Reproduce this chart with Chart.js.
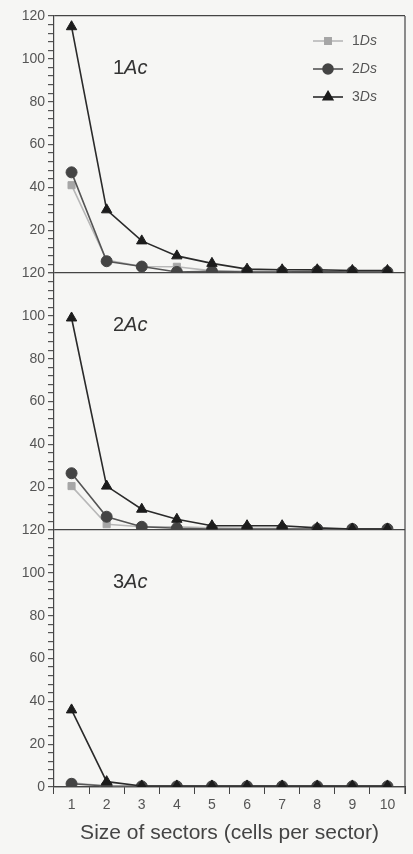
<!DOCTYPE html>
<html>
<head>
<meta charset="utf-8">
<script src="https://cdn.jsdelivr.net/npm/chart.js@4.4.1/dist/chart.umd.min.js"></script>
<style>
    html, body { margin: 0; padding: 0; background: #f6f6f4; }
    #wrap { width: 413px; height: 854px; position: relative; }
</style>
</head>
<body>
<div id="wrap"><canvas id="sectorChart" width="413" height="854"></canvas></div>
<script>
// Datos
const sizes = ['1', '2', '3', '4', '5', '6', '7', '8', '9', '10'];
const seriesNames = ['1Ds', '2Ds', '3Ds'];
const panelNames = ['1Ac', '2Ac', '3Ac'];
const yMax = 120;

// Panel 1Ac
const ac1_ds1 = [41, 6, 3, 2.9, 1, 0.8, 0.8, 0.8, 0.8, 0.8];
const ac1_ds2 = [47, 5.5, 3, 0.5, 0.8, 0.5, 0.5, 0.8, 0.5, 0.5];
const ac1_ds3 = [115, 29.5, 15, 8, 4.5, 1.8, 1.5, 1.5, 1.2, 1.2];

// Panel 2Ac
const ac2_ds1 = [20.5, 2.7, 1.5, 1.5, 1, 0.8, 0.8, 0.5, 0.5, 0.5];
const ac2_ds2 = [26.5, 6.2, 1.5, 0.8, 0.5, 0.5, 0.5, 0.5, 0.5, 0.5];
const ac2_ds3 = [99, 20.5, 9.7, 5, 2, 2, 2, 1, 0.5, 0.5];

// Panel 3Ac
const ac3_ds1 = [2, 0.5, 0.3, 0.3, 0.3, 0.3, 0.3, 0.3, 0.3, 0.3];
const ac3_ds2 = [1.5, 0.5, 0.3, 0.3, 0.3, 0.3, 0.3, 0.3, 0.3, 0.3];
const ac3_ds3 = [36, 2.5, 0.5, 0.5, 0.5, 0.5, 0.5, 0.5, 0.5, 0.5];

const panelData = [
    [ac1_ds1, ac1_ds2, ac1_ds3],
    [ac2_ds1, ac2_ds2, ac2_ds3],
    [ac3_ds1, ac3_ds2, ac3_ds3]
];
const axisIds = ['yA', 'yB', 'yC'];

const estilos = [
    { fill: '#a6a6a6', line: '#b8b8b8', point: 'rect', radius: 5, order: 3 },
    { fill: '#444444', line: '#555555', point: 'circle', radius: 5.5, order: 2 },
    { fill: '#1c1c1c', line: '#2a2a2a', point: 'triangle', radius: 6, order: 1 }
];

const fuente = '"Liberation Sans", Arial, sans-serif';

const datasets = [];
panelData.forEach((panel, p) => {
    panel.forEach((valores, s) => {
        const e = estilos[s];
        datasets.push({
            label: panelNames[p] + ' ' + seriesNames[s],
            data: valores,
            yAxisID: axisIds[p],
            borderColor: e.line,
            backgroundColor: e.fill,
            pointBackgroundColor: e.fill,
            pointBorderColor: e.fill,
            pointStyle: e.point,
            pointRadius: e.radius,
            pointBorderWidth: 1,
            borderWidth: 1.6,
            tension: 0,
            order: e.order
        });
    });
});

function ejeY(idx) {
    return {
        type: 'linear',
        position: 'left',
        stack: 'paneles',
        stackWeight: 1,
        weight: 3 - idx,
        min: 0,
        max: yMax,
        afterFit: (scale) => { scale.width = 54; },
        border: { display: true, color: '#444', width: 1.2 },
        grid: {
            drawOnChartArea: true,
            tickLength: 6,
            tickColor: '#555',
            color: (ctx) => {
                if (!ctx.tick) return 'transparent';
                if (ctx.tick.value === 0) return '#444';
                if (idx === 0 && ctx.tick.value === yMax) return '#444';
                return 'transparent';
            },
            lineWidth: 1.2
        },
        ticks: {
            stepSize: 4,
            autoSkip: false,
            padding: 3,
            color: '#555',
            font: { family: fuente, size: 14 },
            callback: (v) => {
                if (v % 20 !== 0) return '';
                if (v === 0 && idx < 2) return '';
                return v;
            }
        }
    };
}

// Etiquetas de panel, leyenda y borde derecho
const decoracion = {
    id: 'decoracion',
    afterDraw(chart) {
        const ctx = chart.ctx;
        const area = chart.chartArea;
        ctx.save();

        // borde derecho
        ctx.strokeStyle = '#444';
        ctx.lineWidth = 1.2;
        ctx.beginPath();
        ctx.moveTo(area.right, area.top);
        ctx.lineTo(area.right, area.bottom + 7);
        ctx.stroke();

        // nombres de panel: número recto + "Ac" en cursiva
        ctx.fillStyle = '#333';
        ctx.textBaseline = 'middle';
        axisIds.forEach((id, p) => {
            const esc = chart.scales[id];
            const x = area.left + 59;
            const y = esc.top + 52;
            const num = panelNames[p].charAt(0);
            const resto = panelNames[p].slice(1);
            ctx.font = '20px ' + fuente;
            ctx.fillText(num, x, y);
            const w = ctx.measureText(num).width;
            ctx.font = 'italic 20px ' + fuente;
            ctx.fillText(resto, x + w, y);
        });

        // leyenda
        const top = chart.scales.yA.top;
        seriesNames.forEach((nombre, s) => {
            const e = estilos[s];
            const y = top + 25 + s * 28;
            ctx.strokeStyle = e.line;
            ctx.lineWidth = 1.6;
            ctx.beginPath();
            ctx.moveTo(area.left + 259, y);
            ctx.lineTo(area.left + 289, y);
            ctx.stroke();
            ctx.fillStyle = e.fill;
            ctx.strokeStyle = e.fill;
            Chart.helpers.drawPoint(ctx, {
                pointStyle: e.point,
                radius: e.radius - 0.5,
                rotation: 0,
                borderWidth: 1
            }, area.left + 274, y);
            ctx.fillStyle = '#555';
            ctx.font = '14px ' + fuente;
            const num = nombre.charAt(0);
            ctx.fillText(num, area.left + 298, y);
            const w = ctx.measureText(num).width;
            ctx.font = 'italic 14px ' + fuente;
            ctx.fillText(nombre.slice(1), area.left + 298 + w, y);
        });
        ctx.restore();
    }
};

const sectorCtx = document.getElementById('sectorChart').getContext('2d');
const sectorChart = new Chart(sectorCtx, {
    type: 'line',
    data: {
        labels: sizes,
        datasets: datasets
    },
    options: {
        responsive: false,
        animation: false,
        layout: { padding: { top: 16, right: 8, bottom: 8, left: 0 } },
        plugins: {
            legend: { display: false },
            tooltip: { enabled: false }
        },
        scales: {
            x: {
                type: 'category',
                offset: true,
                border: { display: true, color: '#444', width: 1.2 },
                grid: {
                    offset: true,
                    drawOnChartArea: false,
                    tickLength: 7,
                    color: '#444'
                },
                ticks: {
                    color: '#555',
                    padding: 3,
                    font: { family: fuente, size: 14 }
                },
                title: {
                    display: true,
                    text: 'Size of sectors (cells per sector)',
                    color: '#444',
                    padding: { top: 4, bottom: 0 },
                    font: { family: fuente, size: 21 }
                }
            },
            yA: ejeY(0),
            yB: ejeY(1),
            yC: ejeY(2)
        }
    },
    plugins: [decoracion]
});
</script>
</body>
</html>
